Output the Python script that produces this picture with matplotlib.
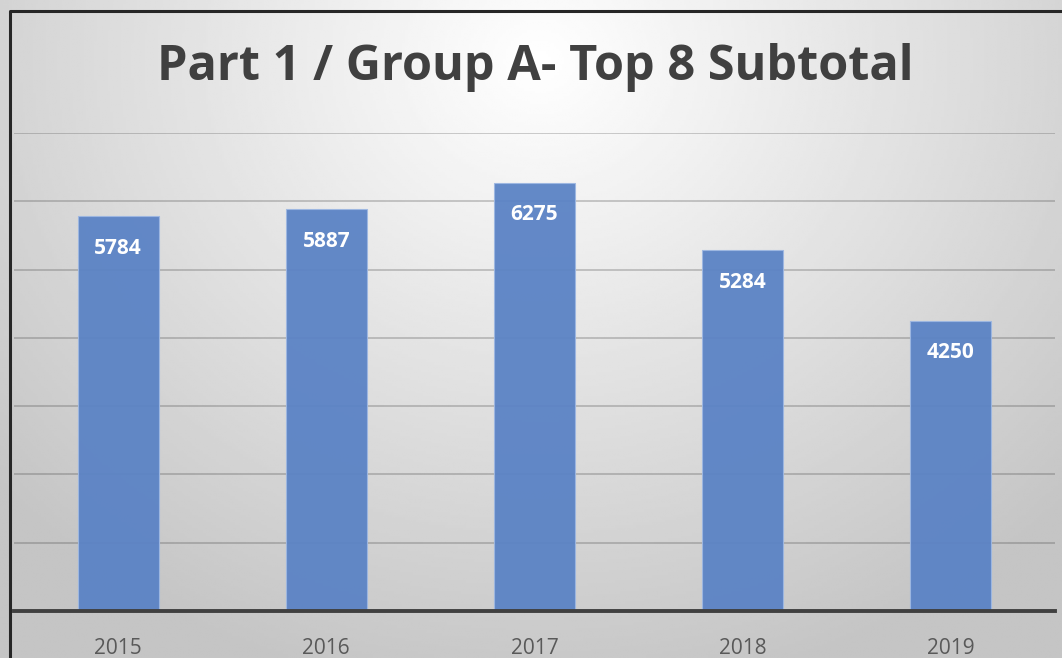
import numpy as np
import matplotlib
matplotlib.use("Agg")
import matplotlib.pyplot as plt

years = ["2015", "2016", "2017", "2018", "2019"]
subtotals = [5784, 5887, 6275, 5284, 4250]
title = "Part 1 / Group A- Top 8 Subtotal"

W, H = 1062, 658
fig = plt.figure(figsize=(W / 100, H / 100), dpi=100)

# radial grey gradient behind everything (Excel chart area look)
bg = fig.add_axes([0, 0, 1, 1], zorder=-10)
gx, gy = np.meshgrid(np.linspace(0, W, 400), np.linspace(0, H, 250))
r = np.sqrt(((gx - 540) / 700) ** 2 + ((gy - 60) / 620) ** 2)
shade = np.clip(1.0 - 0.22 * r, 0.77, 1.0)
bg.imshow(shade, cmap="gray", vmin=0, vmax=1, extent=[0, W, H, 0], aspect="auto")
bg.set_xlim(0, W)
bg.set_ylim(H, 0)
bg.axis("off")
# chart border (left and top visible, rest cropped)
bg.plot([10, 10, W + 5], [H + 5, 10.5, 10.5], color="#262626", lw=2.2)

ax = fig.add_axes([14 / W, 1 - 611 / H, 1041 / W, (611 - 133) / H])
ax.patch.set_alpha(0)
x = np.arange(len(years))
bars = ax.bar(x, subtotals, width=0.39, color="#5B83C5", edgecolor="#9DB7E2",
              linewidth=0.8, alpha=0.95, zorder=3)
for b, v in zip(bars, subtotals):
    ax.text(b.get_x() + b.get_width() / 2, v - 470, str(v), ha="center", va="center",
            color="white", fontsize=15, fontweight="bold", family="Open Sans", zorder=4)

ax.set_xlim(-0.5, len(years) - 0.5)
ax.set_ylim(0, 7000)
ax.set_yticks(range(1000, 7001, 1000))
ax.yaxis.grid(True, color="#404040", alpha=0.3, lw=1.2, zorder=0)
ax.tick_params(axis="y", left=False, labelleft=False)
ax.tick_params(axis="x", bottom=False, pad=16, labelsize=15, labelcolor="#595959")
ax.set_xticks(x)
ax.set_xticklabels(years, family="Open Sans")
for s in ["top", "left", "right"]:
    ax.spines[s].set_visible(False)
ax.spines["bottom"].set_color("#404040")
ax.spines["bottom"].set_linewidth(2.8)
ax.spines["bottom"].set_zorder(5)

fig.text(535 / W, 1 - 67 / H, title, ha="center", va="center", fontsize=35,
         fontweight="bold", color="#404040", family="Open Sans")

fig.savefig("out.png", dpi=100)
